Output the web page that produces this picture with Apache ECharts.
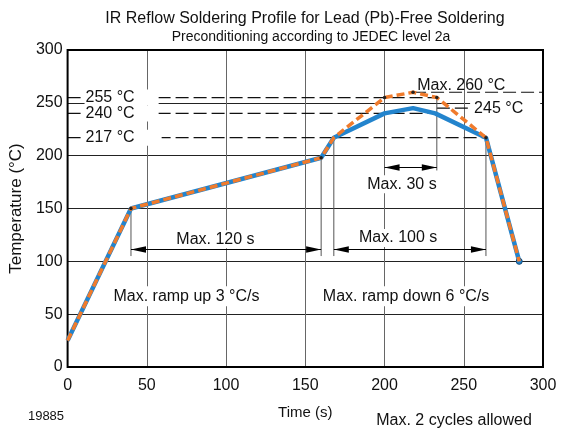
<!DOCTYPE html>
<html><head><meta charset="utf-8">
<script src="https://cdn.jsdelivr.net/npm/echarts@6/dist/echarts.min.js"></script>
<style>html,body{margin:0;padding:0;background:#fff}#c{width:567px;height:430px}</style>
</head><body><div id="c"></div>
<script>
// ---- data ----
const timeBlue   = [0, 40, 160, 168, 200, 218, 232, 264, 285];
const tempBlue   = [25, 150, 198, 217, 240, 245, 240, 217, 100];
const timeOrange = [0, 40, 160, 168, 200, 218, 233, 264, 285];
const tempOrange = [25, 150, 198, 217, 255, 260, 255, 217, 100];
const orangeDotIdx = [1, 2, 4, 5, 6, 7];
const xTicks = [0, 50, 100, 150, 200, 250, 300];
const yTicks = [0, 50, 100, 150, 200, 250, 300];
// reference temperature lines: [temp, fromTime, toTime]
const refTemps = [255, 240, 217, 260, 245];
const refFrom  = [0, 0, 0, 218, 233];
const refTo    = [233, 233, 264, 300, 300];
// dimension arrows: [fromTime, toTime, atTemp]
const dimFrom = [40, 168, 200];
const dimTo   = [160, 264, 233];
const dimAt   = [112, 112, 189];
// extension lines: time, top temp, bottom temp
const extTime = [40, 160, 168, 264, 233];
const extTop  = [150, 198, 217, 217, 255];
const extBot  = [105, 105, 105, 105, 186];
// text notes
const notes = [
  {text: '255 °C', x: 10.7, y: 255, align: 'left', pad: [0, 24, 0, 1]},
  {text: '240 °C', x: 10.7, y: 240, align: 'left', pad: [0, 24, 0, 1]},
  {text: '217 °C', x: 10.7, y: 217, align: 'left', pad: [0, 27, 0, 1]},
  {text: '245 °C', x: 254, y: 245, align: 'left', pad: [0, 17, 0, 4]},
  {text: 'Max. 260 °C', x: 220.6, y: 266.5, align: 'left', pad: [0, 0, 0, 0], nobg: true},
  {text: 'Max. 120 s', x: 93.3, y: 121, align: 'center', pad: [1, 3, 1, 3]},
  {text: 'Max. 100 s', x: 208.6, y: 122, align: 'center', pad: [1, 3, 1, 3]},
  {text: 'Max. 30 s', x: 211, y: 173, align: 'center', pad: [1, 3, 1, 3]},
  {text: 'Max. ramp up 3 °C/s', x: 75, y: 67, align: 'center', pad: [2, 3, 2, 3]},
  {text: 'Max. ramp down 6 °C/s', x: 213.6, y: 67, align: 'center', pad: [2, 3, 2, 3]}
];

const FONT = '"Liberation Sans", Arial, Helvetica, sans-serif';
const BLUE = '#2384cd', ORANGE = '#f07b2c';

const chart = echarts.init(document.getElementById('c'));

function renderAnno(params, api) {
  if (params.dataIndex !== 0) return;
  const P = (x, y) => api.coord([x, y]);
  const ch = [];
  refTemps.forEach((t, i) => {
    const a = P(refFrom[i], t), b = P(refTo[i], t);
    ch.push({type: 'line', shape: {x1: a[0], y1: a[1], x2: b[0], y2: b[1]},
      style: {stroke: '#111', lineWidth: 1.2, lineDash: [13, 5]}});
  });
  extTime.forEach((t, i) => {
    const a = P(t, extTop[i]), b = P(t, extBot[i]);
    ch.push({type: 'line', shape: {x1: a[0], y1: a[1], x2: b[0], y2: b[1]},
      style: {stroke: '#555', lineWidth: 1}});
  });
  notes.forEach(n => {
    const p = P(n.x, n.y);
    ch.push({type: 'text', style: {text: n.text, x: p[0], y: p[1], align: n.align,
      verticalAlign: 'middle', font: '16px ' + FONT, fill: '#111',
      backgroundColor: n.nobg ? 'transparent' : '#fff', padding: n.pad}});
  });
  dimFrom.forEach((f, i) => {
    const a = P(f, dimAt[i]), b = P(dimTo[i], dimAt[i]);
    const y = Math.round(a[1]) + 0.5, L = 15, H = 3.2;
    ch.push({type: 'line', shape: {x1: a[0], y1: y, x2: b[0], y2: y}, style: {stroke: '#000', lineWidth: 1}});
    ch.push({type: 'polygon', shape: {points: [[a[0], y], [a[0] + L, y - H], [a[0] + L, y + H]]}, style: {fill: '#000'}});
    ch.push({type: 'polygon', shape: {points: [[b[0], y], [b[0] - L, y - H], [b[0] - L, y + H]]}, style: {fill: '#000'}});
  });
  const tl = P(0, 300), br = P(300, 0);
  ch.push({type: 'rect', shape: {x: tl[0], y: tl[1], width: br[0] - tl[0], height: br[1] - tl[1]},
    style: {fill: 'none', stroke: '#000', lineWidth: 2}});
  return {type: 'group', children: ch};
}

const blueData = timeBlue.map((t, i) => {
  const last = i === timeBlue.length - 1;
  return {value: [t, tempBlue[i]], symbol: last ? 'circle' : 'none', symbolSize: last ? 6 : 0,
    itemStyle: {color: BLUE, borderColor: '#134a7a', borderWidth: 1}};
});
const orangeData = timeOrange.map((t, i) => {
  const dot = orangeDotIdx.indexOf(i) >= 0;
  return {value: [t, tempOrange[i]], symbol: dot ? 'circle' : 'none', symbolSize: dot ? 3.5 : 0,
    itemStyle: {color: '#222', borderWidth: 0}};
});

chart.setOption({
  animation: false,
  backgroundColor: '#fff',
  title: [
    {text: 'IR Reflow Soldering Profile for Lead (Pb)-Free Soldering', left: 300, top: 6, textAlign: 'center',
      textStyle: {fontFamily: FONT, fontSize: 16, fontWeight: 'normal', color: '#111'}},
    {text: 'Preconditioning according to JEDEC level 2a', left: 306, top: 25, textAlign: 'center',
      textStyle: {fontFamily: FONT, fontSize: 14, fontWeight: 'normal', color: '#111'}},
    {text: '19885', left: 41, top: 405, textAlign: 'center',
      textStyle: {fontFamily: FONT, fontSize: 13, fontWeight: 'normal', color: '#111'}},
    {text: 'Max. 2 cycles allowed', left: 449, top: 408, textAlign: 'center',
      textStyle: {fontFamily: FONT, fontSize: 16, fontWeight: 'normal', color: '#111'}}
  ],
  grid: {left: 67, right: 24, top: 50, bottom: 63, containLabel: false},
  xAxis: {
    type: 'value', min: xTicks[0], max: xTicks[xTicks.length - 1], interval: xTicks[1] - xTicks[0],
    name: 'Time (s)', nameLocation: 'middle', nameGap: 38,
    nameTextStyle: {fontFamily: FONT, fontSize: 15, color: '#111'},
    axisLine: {show: false}, axisTick: {show: false},
    axisLabel: {fontFamily: FONT, fontSize: 16, color: '#111', margin: 11},
    splitLine: {show: true, showMinLine: false, showMaxLine: false, lineStyle: {color: '#666', width: 1}}
  },
  yAxis: {
    type: 'value', min: yTicks[0], max: yTicks[yTicks.length - 1], interval: yTicks[1] - yTicks[0],
    name: 'Temperature (°C)', nameLocation: 'middle', nameGap: 37,
    nameTextStyle: {fontFamily: FONT, fontSize: 17, color: '#111'},
    axisLine: {show: false}, axisTick: {show: false},
    axisLabel: {fontFamily: FONT, fontSize: 16, color: '#111', margin: 5},
    splitLine: {show: true, showMinLine: false, showMaxLine: false, lineStyle: {color: '#222', width: 1}}
  },
  series: [
    {type: 'custom', renderItem: renderAnno, data: [0], z: 1, silent: true, clip: false},
    {type: 'line', data: blueData, z: 3, lineStyle: {color: BLUE, width: 4.5}, silent: true},
    {type: 'line', data: orangeData, z: 4, lineStyle: {color: ORANGE, width: 3.5, type: [8, 4]}, silent: true}
  ]
});
</script></body></html>
